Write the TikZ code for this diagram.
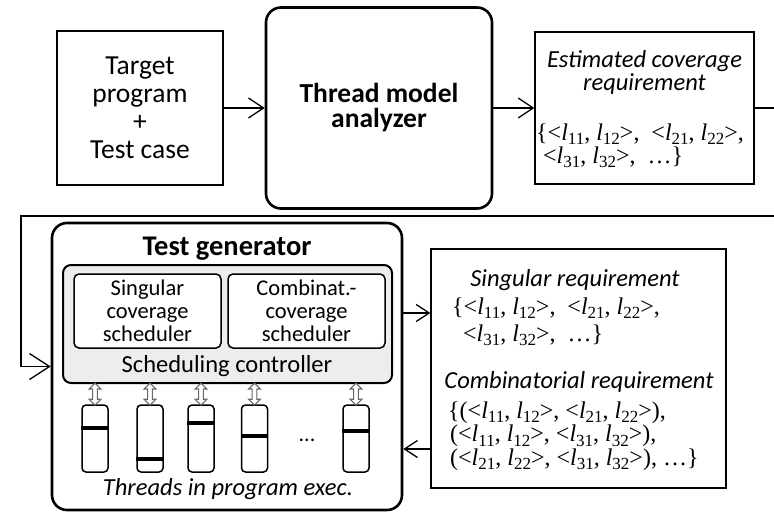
\documentclass[tikz,border=0pt]{standalone}
\usepackage{fontspec}
\setmainfont{Carlito}
\newfontfamily\setfont{Liberation Serif}
\usetikzlibrary{arrows.meta,shapes.arrows,calc}

% location variable l with a numeric index
\newcommand\lv[1]{\textit{l}\raisebox{-0.19em}[\height][0pt]{\fontsize{17}{17}\selectfont #1}}

\begin{document}
\begin{tikzpicture}[x=1pt,y=-1pt,
  plainbox/.style={draw, line width=1.3pt, inner sep=0pt, align=center},
  bigbox/.style={draw, line width=2.6pt, rounded corners=15pt, inner sep=0pt, align=center},
  ctrlbox/.style={draw, line width=2pt, rounded corners=8pt, fill=black!7, inner sep=0pt},
  schedbox/.style={draw, line width=1.5pt, rounded corners=5pt, fill=white, inner sep=0pt,
    align=center, font=\fontsize{22.5}{23}\selectfont},
  thread/.style={draw, line width=1.5pt, rounded corners=4pt, minimum width=26pt,
    minimum height=67pt, inner sep=0pt},
  bar/.style={line width=4pt},
  link/.style={line width=1.3pt},
  tip/.style={-{Straight Barb[length=15pt,width=20pt]}},
  smalltip/.style={-{Straight Barb[length=13pt,width=17pt]}},
  bigtip/.style={-{Straight Barb[length=20pt,width=26pt]}},
  sync/.style={double arrow, draw=black!60, line width=1.1pt, rotate=90, minimum height=22pt,
    inner sep=1.8pt, double arrow head extend=3.5pt},
  label/.style={font=\fontsize{27.5}{28}\selectfont, align=center},
  ititle/.style={font=\itshape\fontsize{24.5}{27}\selectfont, anchor=base, inner sep=0pt},
  btitle/.style={font=\bfseries\fontsize{28.5}{28}\selectfont, anchor=base, inner sep=0pt},
  % multi-line set: anchored at the baseline of its last row
  setrows/.style={font=\setfont\fontsize{24}{#1}\selectfont, anchor=base west,
    inner sep=0pt, align=left}
]
\useasboundingbox (0,0) rectangle (774,512);

% ---------- upper row ----------
\node[plainbox, label, minimum width=166pt, minimum height=154pt] (target) at (140,108)
  {Target\\program\\+\\Test case};
\node[bigbox, minimum width=226pt, minimum height=201pt,
  font=\bfseries\fontsize{27.5}{25}\selectfont] (tma) at (379,108) {Thread model\\analyzer};
\node[plainbox, minimum width=219pt, minimum height=152pt] (ecr) at (644.5,108) {};
\node[ititle] (ecr1) at (644.5,67) {Estimated coverage};
\node[ititle] (ecr2) at (644.5,90) {requirement};
\node[setrows=23pt] (ecrset) at (536,163)
  {\{<\lv{11}, \lv{12}>,\ \ <\lv{21}, \lv{22}>,\\
   \hspace*{7pt}<\lv{31}, \lv{32}>,\ \ \ldots\}};

\draw[link, tip] (target.east) -- (tma.west);
\draw[link, tip] (tma.east) -- (ecr.west);

% ---------- feedback route ----------
\coordinate (eout) at (774,108);
\coordinate (ein) at (774,216);
\coordinate (lc) at (21,216);
\draw[link] (ecr.east) -- (eout);

% ---------- test generator ----------
\node[bigbox, minimum width=350pt, minimum height=287pt] (tg) at (227,366.5) {};
\node[btitle] (tgt) at (227,255) {Test generator};
\node[ctrlbox, minimum width=329pt, minimum height=118pt] (ctrl) at (227.5,324) {};
\node[schedbox, minimum width=147pt, minimum height=74pt] (ss) at (147.5,311)
  {Singular\\coverage\\scheduler};
\node[schedbox, minimum width=157pt, minimum height=74pt] (cs) at (306.5,311)
  {Combinat.-\\coverage\\scheduler};
\node[font=\fontsize{24.5}{26}\selectfont, anchor=base, inner sep=0pt] (ctrlt) at (227,372)
  {Scheduling controller};

\foreach \x/\b [count=\i] in {95/428, 150/459, 201/423, 254.5/436, 356/431} {
  \node[thread] (t\i) at (\x,438.5) {};
  \draw[bar] (t\i.west |- 0,\b) -- (t\i.east |- 0,\b);
  \node[sync] (s\i) at ($(t\i.north)!0.5!(t\i.north |- ctrl.south)$) {};
}
\node[font=\fontsize{22}{24}\selectfont] (dots) at (307,440) {...};
\node[font=\itshape\fontsize{24.5}{26}\selectfont, anchor=base, inner sep=0pt] (thr) at (228,495)
  {Threads in program exec.};

\draw[link, bigtip] (ein) -- (lc) |- (tg.west);

% ---------- requirements ----------
\node[plainbox, minimum width=295pt, minimum height=239pt] (req) at (578.5,368.5) {};
\node[ititle] (sr) at (575,286) {Singular requirement};
\node[setrows=27pt] (srset) at (452,341)
  {\{<\lv{11}, \lv{12}>,\ \ <\lv{21}, \lv{22}>,\\
   \hspace*{11pt}<\lv{31}, \lv{32}>,\ \ \ldots\}};
\node[ititle] (cr) at (579,388) {Combinatorial requirement};
\node[setrows=23.5pt] (crset) at (448,465)
  {\{(<\lv{11}, \lv{12}>, <\lv{21}, \lv{22}>),\\
   \hspace*{2pt}(<\lv{11}, \lv{12}>, <\lv{31}, \lv{32}>),\\
   \hspace*{2pt}(<\lv{21}, \lv{22}>, <\lv{31}, \lv{32}>), \ldots\}};

\draw[link, smalltip] (tg.east |- 0,313) -- (req.west |- 0,313);
\draw[link, smalltip] (req.west |- 0,449) -- (tg.east |- 0,449);
\end{tikzpicture}
\end{document}
